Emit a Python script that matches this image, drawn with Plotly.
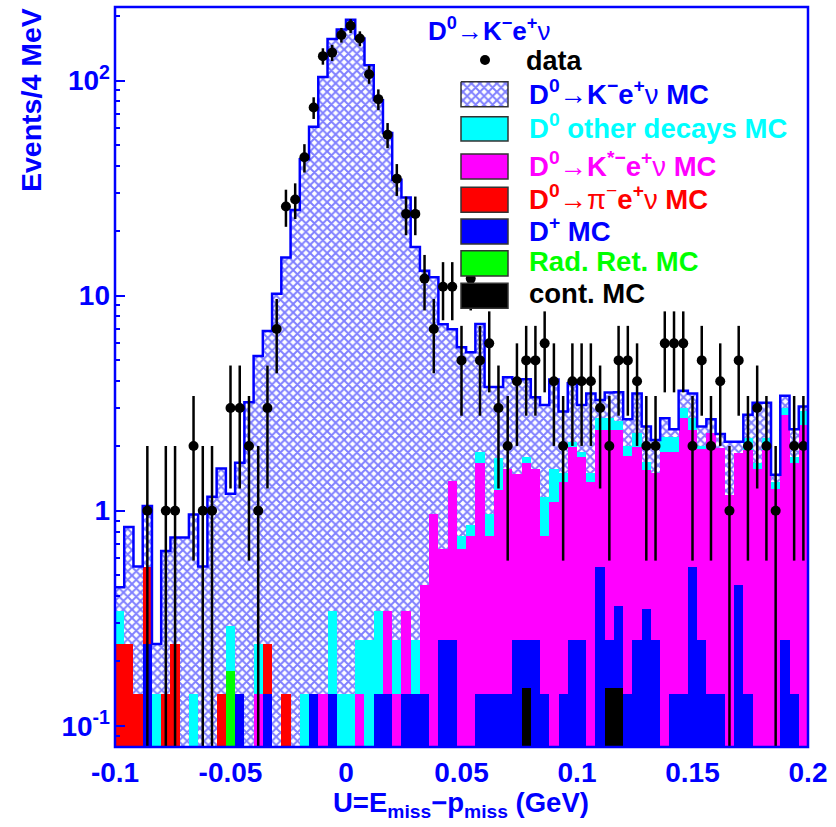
import numpy as np
import plotly.graph_objects as go

# ---- binning of U = E_miss - p_miss (GeV), 4 MeV bins ----
U_MIN, U_MAX, BIN_W = -0.1, 0.2, 0.004
N_BINS = 75

# ---- observed events per bin ----
data_counts = [0, 0, 0, 1, 0, 1, 1, 0, 2, 1, 1, 0, 3, 3, 2, 1, 3, 7,
               26, 28, 44, 75, 130, 135, 163, 180, 157, 107, 82, 56, 35, 24, 24,
               12, 7, 11, 11, 5, 12, 5, 6, 3, 2, 4, 5, 5, 6, 4, 2, 4, 4, 4, 3, 2,
               5, 5, 4, 2, 2, 6, 6, 6, 2, 5, 2, 4, 1, 5, 2, 3, 2, 1, 0, 2, 2]

# ---- MC components (events per bin), listed bottom -> top of the stack ----
mc_cont = [0]*44 + [0.15] + [0]*8 + [0.15, 0.15] + [0]*20

mc_rad = [0]*12 + [0.18] + [0]*62

mc_dplus = [0, 0, 0, 0.24, 0, 0, 0, 0, 0, 0, 0, 0, 0, 0.14, 0, 0, 0.14, 0,
            0, 0, 0, 0.14, 0, 0.14, 0, 0, 0, 0, 0.14, 0.14, 0, 0.14, 0.14,
            0.14, 0, 0.25, 0.25, 0, 0, 0.14, 0.14, 0.14, 0.14, 0.25, 0.10, 0.25, 0.14, 0,
            0.14, 0.25, 0.25, 0, 0.55, 0.10, 0.21, 0.14, 0.25, 0.35, 0.25, 0, 0.14, 0.14,
            0.55, 0.25, 0.14, 0.14, 0, 0.45, 0.14, 0, 0, 0, 0.25, 0.14, 0]

mc_pi = [0.24, 0.24, 0.14, 0.31, 0, 0.14, 0.24, 0, 0, 0, 0, 0.14, 0, 0, 0, 0, 0.10, 0,
         0.14] + [0]*56

mc_kstar = [0]*15 + [0.14] + [0]*6 + [0.14, 0, 0, 0, 0.14, 0, 0, 0.20, 0.14, 0.20, 0,
            0.31, 0.97, 0.41, 1.12, 0.66, 0.76, 1.52, 0.62, 1.11, 1.43, 1.23, 1.41, 1.32,
            0.62, 1.10, 1.22, 1.73, 1.53, 1.36, 1.82, 2.12, 2.02, 1.66, 1.73, 1.20, 1.24,
            1.88, 1.74, 2.55, 1.82, 1.68, 2.15, 1.81, 1.18, 1.40, 1.77, 1.57, 1.91, 1.26,
            2.54, 1.52, 2.50]

mc_other = [0.10, 0, 0, 0, 0.14, 0, 0, 0, 0.14, 0, 0, 0, 0.11, 0, 0, 0.10, 0, 0,
            0, 0, 0.14, 0, 0, 0.20, 0.14, 0.14, 0.11, 0.25, 0.20, 0, 0.11, 0, 0.11,
            0, 0, 0, 0, 0.10, 0.10, 0.22, 0.20, 0.51, 0, 0, 0.12, 0, 0.40, 0.47,
            0.13, 0.11, 0.10, 0.13, 0.32, 0.32, 0.23, 0.20, 0.31, 0.14, 0, 0.33, 0.32,
            0.30, 0.32, 0.07, 0, 0, 0, 0, 0.26, 0.09, 0.26, 0.10, 0.20, 0.12, 0.40]

mc_kenu = [0.10, 0.60, 0.41, 0.50, 0.10, 0.51, 0.51, 0.75, 0.82, 0.55, 1.16, 1.43,
           0.91, 1.53, 3.19, 5.0, 6.6, 10.2, 14.9, 25.0, 42.9, 60.9, 103.9, 155.7,
           172.9, 191.9, 156.8, 117.8, 80.7, 56.7, 34.3, 28.3, 16.6, 12.6, 11.2, 6.7,
           5.6, 5.0, 4.6, 5.5, 2.8, 2.0, 2.6, 2.6, 2.3, 1.8, 1.94, 2.5, 1.4, 1.82,
           1.22, 2.02, 0.58, 0.85, 0.94, 0.66, 1.22, 0.77, 0.64, 0.48, 0.19, 0.62,
           0.82, 0.46, 0.37, 0.32, 0.91, 0.24, 0.62, 1.52, 1.01, 0.11, 0.43, 0.61, 0.15]

# ---- axis labels ----
x_tick_vals = [-0.1, -0.05, 0, 0.05, 0.1, 0.15, 0.2]
x_tick_text = ["-0.1", "-0.05", "0", "0.05", "0.1", "0.15", "0.2"]
y_tick_vals = [0.1, 1, 10, 100]
y_tick_text = ["10<sup>-1</sup>", "1", "10", "10<sup>2</sup>"]

BLUE = "#0000ff"
FONT = "Liberation Sans"
HATCH = dict(shape="x", fgcolor=BLUE, bgcolor="white", size=6, solidity=0.55)

edges = U_MIN + BIN_W * np.arange(N_BINS + 1)
centers = edges[:-1] + BIN_W / 2

stack = [
    ("cont. MC", mc_cont, "#000000"),
    ("Rad. Ret. MC", mc_rad, "#00ff00"),
    ("D+ MC", mc_dplus, "#0000ff"),
    ("D0 -> pi e nu MC", mc_pi, "#ff0000"),
    ("D0 -> K* e nu MC", mc_kstar, "#ff00ff"),
    ("D0 other decays MC", mc_other, "#00ffff"),
    ("D0 -> K e nu MC", mc_kenu, None),
]
cum = np.cumsum(np.array([np.array(s[1], dtype=float) for s in stack]), axis=0)
total = cum[-1]

fig = go.Figure()

# stacked histogram: draw the running sums from the top layer down
for k in range(len(stack) - 1, -1, -1):
    name, _, color = stack[k]
    yk = [v if v > 1e-6 else None for v in cum[k]]
    if color is None:
        marker = dict(color="white", line=dict(width=0), pattern=HATCH)
    else:
        marker = dict(color=color, line=dict(width=0))
    fig.add_trace(go.Bar(x=centers, y=yk, width=BIN_W, marker=marker,
                         name=name, showlegend=False, hoverinfo="skip"))

# outline of the signal-MC histogram
fig.add_trace(go.Scatter(x=edges, y=np.append(total, total[-1]), mode="lines",
                         line=dict(shape="hv", color=BLUE, width=2.5),
                         showlegend=False, hoverinfo="skip"))

# data points with Poisson errors
dc = np.array(data_counts, dtype=float)
sel = dc > 0
err = np.sqrt(dc[sel])
fig.add_trace(go.Scatter(x=centers[sel], y=dc[sel], mode="markers",
                         marker=dict(color="black", size=10),
                         error_y=dict(type="data", array=err, arrayminus=err,
                                      color="black", thickness=2.5, width=0),
                         showlegend=False, hoverinfo="skip"))

# ---- figure geometry (pixels) ----
W, H = 836, 827
L, R, T, B = 115, 808, 7, 747


def px(xp):
    return (xp - L) / (R - L)


def py(yp):
    return (B - yp) / (B - T)


y_lo, y_hi = np.log10(0.0796), np.log10(220)
minor_vals = [m * 10.0 ** e for e in (-2, -1, 0, 1, 2) for m in range(2, 10)
              if y_lo < np.log10(m * 10.0 ** e) < y_hi]

fig.update_layout(
    width=W, height=H,
    margin=dict(l=L, r=W - R, t=T, b=H - B),
    paper_bgcolor="white", plot_bgcolor="white",
    barmode="overlay", bargap=0,
    showlegend=False,
    font=dict(family=FONT, color=BLUE),
    xaxis=dict(range=[U_MIN, U_MAX], tickvals=x_tick_vals, ticktext=x_tick_text,
               ticks="", showgrid=False, zeroline=False, showline=False,
               ticklabelstandoff=6,
               tickfont=dict(family=FONT, size=28, color=BLUE, weight="bold")),
    yaxis=dict(type="log", range=[y_lo, y_hi], tickvals=y_tick_vals, ticktext=y_tick_text,
               ticks="inside", ticklen=10, tickwidth=2, tickcolor=BLUE,
               minor=dict(tickvals=minor_vals, ticks="inside", ticklen=5,
                          tickwidth=2, tickcolor=BLUE),
               ticklabelstandoff=4,
               showgrid=False, zeroline=False, showline=False,
               tickfont=dict(family=FONT, size=28, color=BLUE, weight="bold")),
    xaxis2=dict(overlaying="x", range=[0, 1], visible=False, fixedrange=True),
    yaxis2=dict(overlaying="y", range=[0, 1], visible=False, fixedrange=True, anchor="x2"),
)

# frame
fig.add_shape(type="rect", xref="paper", yref="paper", x0=0, x1=1, y0=0, y1=1,
              line=dict(color=BLUE, width=2.5), layer="above")

# axis titles
fig.add_annotation(text="<b>U=E<sub>miss</sub>\u2212p<sub>miss</sub> (GeV)</b>",
                   xref="paper", yref="paper", x=px(461), y=py(785),
                   xanchor="center", yanchor="top", showarrow=False,
                   font=dict(family=FONT, size=27.5, color=BLUE))
fig.add_annotation(text="<b>Events/4 MeV</b>", textangle=-90,
                   xref="paper", yref="paper", x=px(31), y=py(6),
                   xanchor="center", yanchor="top", showarrow=False,
                   font=dict(family=FONT, size=28.5, color=BLUE))

# ---- legend ----
fig.add_annotation(text="<b>D<sup>0</sup>\u2192K<sup>\u2212</sup>e<sup>+</sup></b>\u03bd",
                   xref="paper", yref="paper", x=px(426), y=py(29),
                   xanchor="left", yanchor="middle", showarrow=False,
                   font=dict(family=FONT, size=26, color=BLUE))

fig.add_trace(go.Scatter(x=[px(485)], y=[py(60)], xaxis="x2", yaxis="y2", mode="markers",
                         marker=dict(color="black", size=10), showlegend=False,
                         hoverinfo="skip"))
fig.add_annotation(text="<b>data</b>", xref="paper", yref="paper", x=px(524), y=py(61),
                   xanchor="left", yanchor="middle", showarrow=False,
                   font=dict(family=FONT, size=27, color="black"))

legend_rows = [
    ("<b>D<sup>0</sup>\u2192K<sup>\u2212</sup>e<sup>+</sup></b>\u03bd<b> MC</b>", BLUE, None, 81.7, 106.7),
    ("<b>D<sup>0</sup> other decays MC</b>", "#00ffff", "#00ffff", 116.7, 141.0),
    ("<b>D<sup>0</sup>\u2192K<sup>*\u2212</sup>e<sup>+</sup></b>\u03bd<b> MC</b>", "#ff00ff", "#ff00ff", 154.0, 179.0),
    ("<b>D<sup>0</sup>\u2192</b>\u03c0<sup>\u2212</sup><b>e<sup>+</sup></b>\u03bd<b> MC</b>", "#ff0000", "#ff0000", 187.3, 212.3),
    ("<b>D<sup>+</sup> MC</b>", BLUE, BLUE, 219.0, 244.0),
    ("<b>Rad. Ret. MC</b>", "#00ff00", "#00ff00", 250.7, 276.0),
    ("<b>cont. MC</b>", "#000000", "#000000", 283.3, 308.3),
]
SW_X0, SW_X1, TXT_X = 461, 508, 527
for text, tcolor, fill, y0, y1 in legend_rows:
    if fill is None:
        fig.add_trace(go.Scatter(
            x=[px(SW_X0), px(SW_X1), px(SW_X1), px(SW_X0), px(SW_X0)],
            y=[py(y0), py(y0), py(y1), py(y1), py(y0)],
            xaxis="x2", yaxis="y2", mode="lines", fill="toself",
            fillcolor="white", fillpattern=HATCH,
            line=dict(color="#333333", width=1.5), showlegend=False, hoverinfo="skip"))
    else:
        fig.add_shape(type="rect", xref="paper", yref="paper",
                      x0=px(SW_X0), x1=px(SW_X1), y0=py(y1), y1=py(y0),
                      fillcolor=fill, line=dict(color="#333333", width=1.5), layer="above")
    fig.add_annotation(text=text, xref="paper", yref="paper", x=px(TXT_X),
                       y=py((y0 + y1) / 2 - 2), xanchor="left", yanchor="middle",
                       showarrow=False, font=dict(family=FONT, size=27.5, color=tcolor))

fig.write_html("out.html")
